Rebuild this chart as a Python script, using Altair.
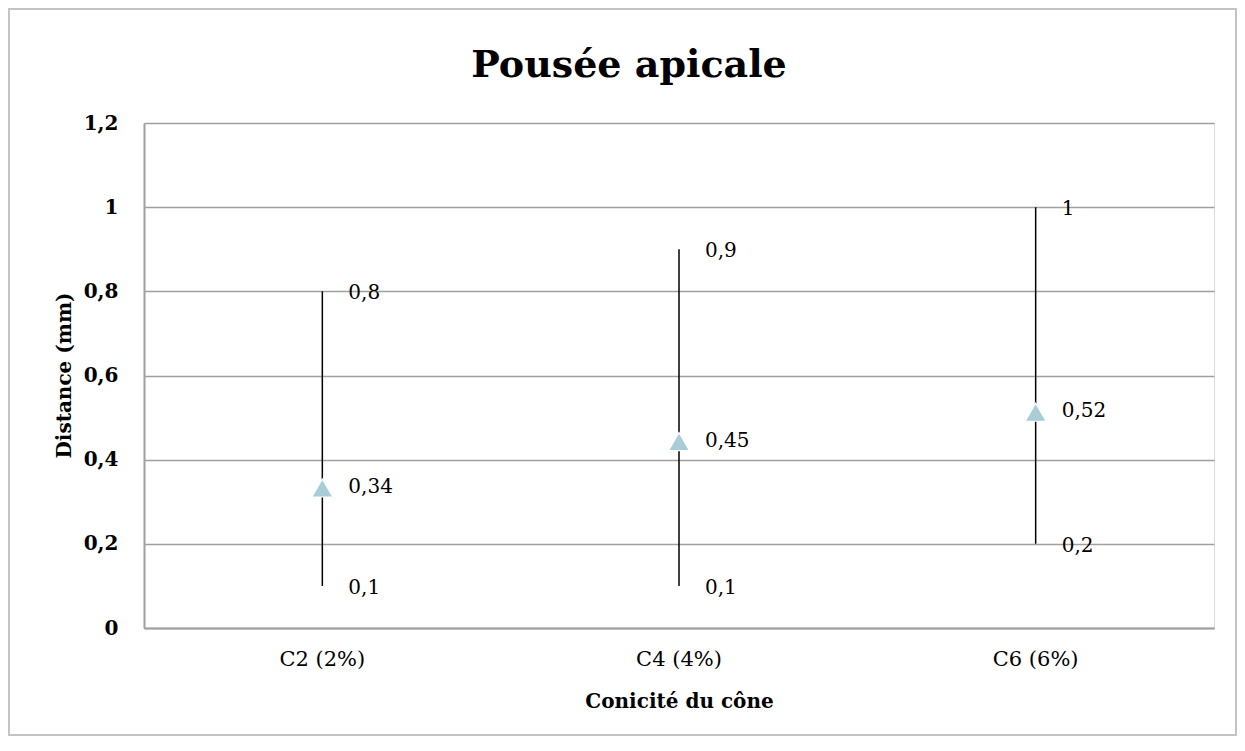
import altair as alt
import pandas as pd

categories = ["C2 (2%)", "C4 (4%)", "C6 (6%)"]
mins = [0.1, 0.1, 0.2]
maxs = [0.8, 0.9, 1.0]
means = [0.34, 0.45, 0.52]
y_ticks = [0, 0.2, 0.4, 0.6, 0.8, 1.0, 1.2]


def fr(v):
    return f"{v:g}".replace(".", ",")


ranges = pd.DataFrame({"cat": categories, "lo": mins, "hi": maxs, "mean": means})
labels = pd.DataFrame(
    {
        "cat": categories * 3,
        "val": mins + maxs + means,
        "txt": [fr(v) for v in mins + maxs + means],
    }
)

SERIF = "DejaVu Serif"

x_enc = alt.X(
    "cat:N",
    sort=categories,
    scale=alt.Scale(paddingInner=0, paddingOuter=0),
    axis=alt.Axis(
        title="Conicité du cône",
        titleFont=SERIF,
        titleFontSize=20,
        titleFontWeight="bold",
        titleColor="black",
        titleY=73,
        titleBaseline="middle",
        labelFont=SERIF,
        labelFontSize=21,
        labelColor="black",
        labelPadding=20,
        labelAngle=0,
        ticks=False,
        domainColor="#a0a0a0",
        domainWidth=2,
        grid=False,
    ),
)

y_scale = alt.Scale(domain=[0, 1.2], nice=False)

base = alt.Chart(ranges)

rules = base.mark_rule(color="black", strokeWidth=1.5).encode(
    x=x_enc,
    y=alt.Y(
        "lo:Q",
        scale=y_scale,
        axis=alt.Axis(
            title="Distance (mm)",
            titleFont=SERIF,
            titleFontSize=20,
            titleFontWeight="bold",
            titleColor="black",
            titleX=-80,
            titleY=252,
            titleBaseline="middle",
            values=y_ticks,
            labelExpr="replace(format(datum.value, '~g'), '.', ',')",
            labelFont=SERIF,
            labelFontSize=20,
            labelFontWeight="bold",
            labelColor="black",
            labelPadding=26,
            ticks=False,
            domainColor="#a0a0a0",
            domainWidth=2,
            gridColor="#a0a0a0",
            gridWidth=1.5,
        ),
    ),
    y2="hi:Q",
)

points = base.mark_point(
    shape="triangle-up",
    filled=True,
    color="#a9ccd9",
    size=440,
    opacity=1,
    yOffset=3,
    stroke="white",
    strokeWidth=1.2,
).encode(x=alt.X("cat:N", sort=categories), y=alt.Y("mean:Q", scale=y_scale))

texts = (
    alt.Chart(labels)
    .mark_text(
        align="left",
        baseline="middle",
        dx=26,
        dy=2,
        font=SERIF,
        fontSize=20,
        color="black",
    )
    .encode(
        x=alt.X("cat:N", sort=categories),
        y=alt.Y("val:Q", scale=y_scale),
        text="txt:N",
    )
)

border = (
    alt.Chart(pd.DataFrame({"a": [0]}))
    .mark_rect(filled=False, stroke="#c4c4c4", strokeWidth=2)
    .encode(
        x=alt.value(-135),
        x2=alt.value(1092),
        y=alt.value(-114),
        y2=alt.value(612),
    )
)

chart = (
    alt.layer(border, rules, points, texts)
    .properties(
        width=1070,
        height=505,
        title=alt.TitleParams(
            "Pousée apicale",
            font=SERIF,
            fontSize=38,
            fontWeight="bold",
            color="black",
            anchor="middle",
            baseline="middle",
            offset=-96,
            dx=-50,
        ),
        autosize=alt.AutoSizeParams(type="none"),
        padding={"left": 136, "top": 115, "right": 23, "bottom": 108},
    )
    .configure_view(stroke=None)
    .configure(background="white")
)

chart.save("out.html", embed_options={"renderer": "svg", "actions": False})
